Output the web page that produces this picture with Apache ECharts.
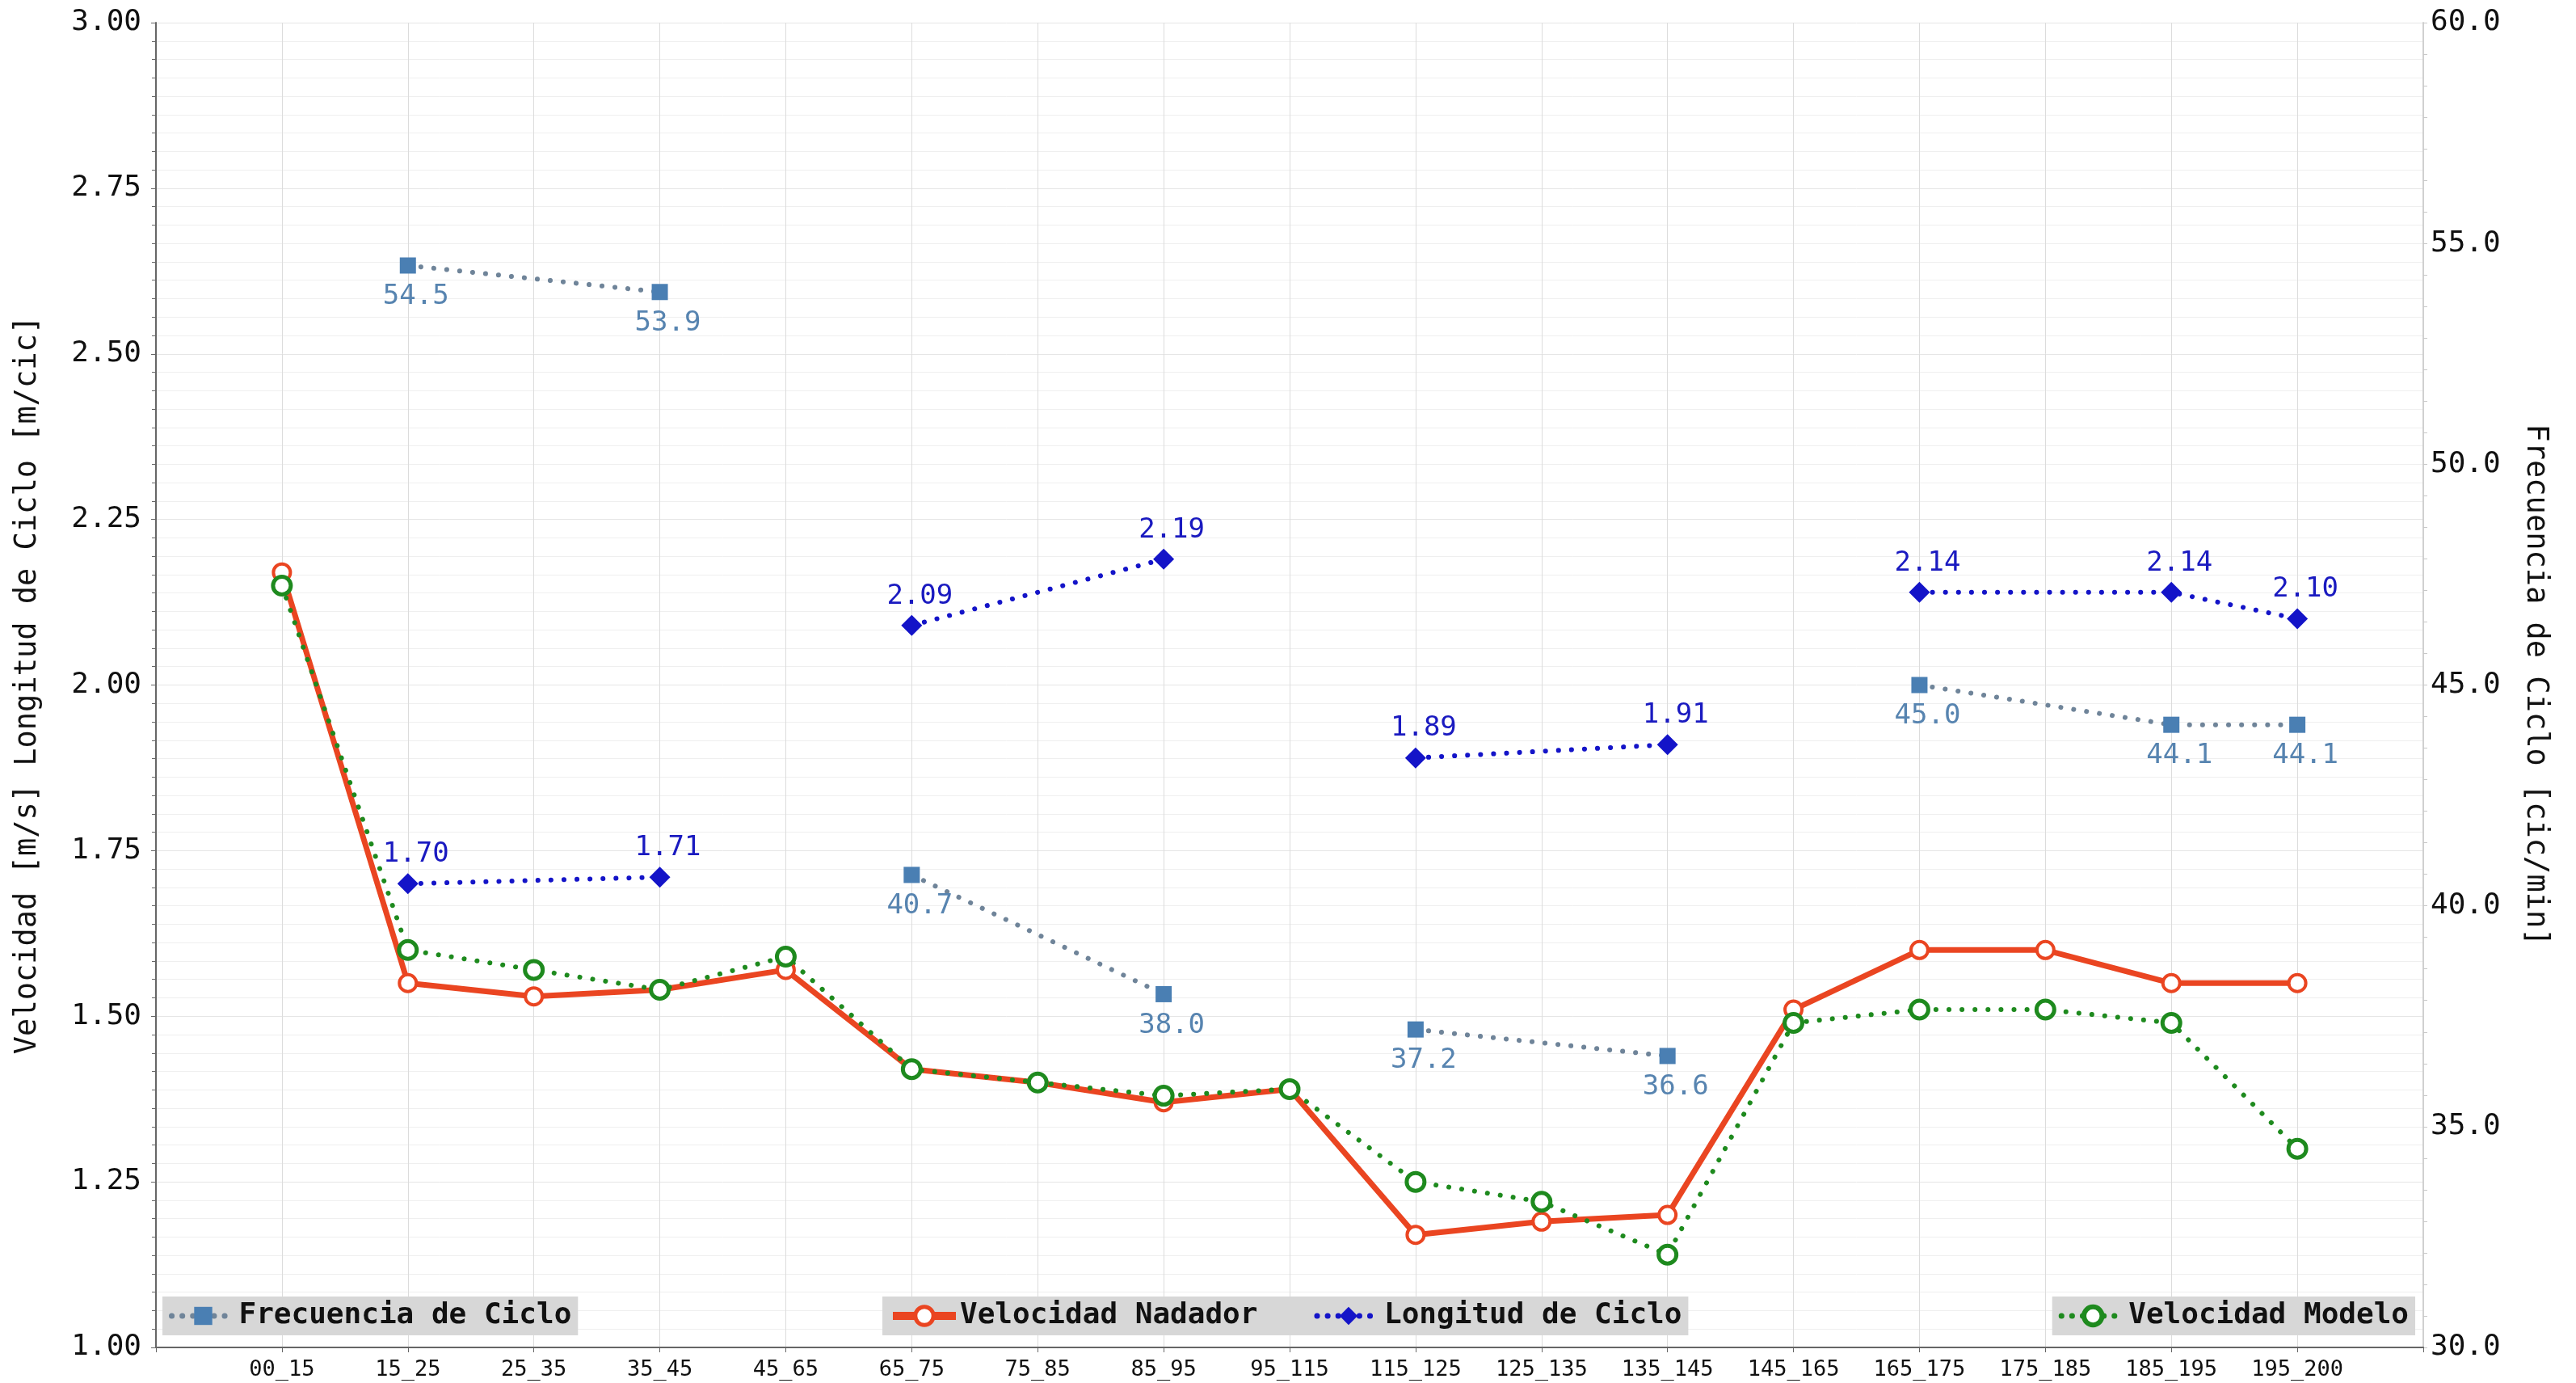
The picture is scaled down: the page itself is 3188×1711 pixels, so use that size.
<!DOCTYPE html>
<html>
<head>
<meta charset="utf-8">
<title>Velocidad y ciclo por tramo</title>
<script src="https://cdn.jsdelivr.net/npm/echarts@6/dist/echarts.min.js"></script>
<style>
html, body { margin: 0; padding: 0; background: #fff; }
#chart { width: 3188px; height: 1711px; }
</style>
</head>
<body>
<div id="chart"></div>
<script>
// tramos de la prueba
var categorias = ['00_15', '15_25', '25_35', '35_45', '45_65', '65_75', '75_85', '85_95', '95_115',
	'115_125', '125_135', '135_145', '145_165', '165_175', '175_185', '185_195', '195_200'];

// velocidades [m/s]
var velocidadNadador = [2.17, 1.55, 1.53, 1.54, 1.57, 1.42, 1.40, 1.37, 1.39, 1.17, 1.19, 1.20, 1.51, 1.60, 1.60, 1.55, 1.55];
var velocidadModelo = [2.15, 1.60, 1.57, 1.54, 1.59, 1.42, 1.40, 1.38, 1.39, 1.25, 1.22, 1.14, 1.49, 1.51, 1.51, 1.49, 1.30];

// longitud de ciclo [m/cic] y frecuencia de ciclo [cic/min], solo en algunos tramos
var longitudCiclo = [null, 1.70, null, 1.71, null, 2.09, null, 2.19, null, 1.89, null, 1.91, null, 2.14, null, 2.14, 2.10];
var frecuenciaCiclo = [null, 54.5, null, 53.9, null, 40.7, null, 38.0, null, 37.2, null, 36.6, null, 45.0, null, 44.1, 44.1];

// grupos de tramos unidos por la linea punteada
var segmentos = [[1, 3], [5, 7], [9, 11], [13, 15, 16]];

var fuente = 'DejaVu Sans Mono';
var puntitos = [0.1, 16];

var colorNadador = '#ea4521';
var colorModelo = '#1e8a1e';
var colorLongitud = '#1414c8';
var colorFrecuencia = '#4a7fb3';
var colorFrecLinea = '#6f8499';

function puntos(valores) {
	return valores.map(function (v, i) { return [i, v]; });
}

function puntosSegmento(valores, idx) {
	return idx.map(function (i) { return [i, valores[i]]; });
}

var series = [];

segmentos.forEach(function (seg) {
	series.push({
		name: 'Frecuencia de Ciclo',
		type: 'line',
		yAxisIndex: 1,
		data: puntosSegmento(frecuenciaCiclo, seg),
		symbol: 'rect',
		symbolSize: 20,
		itemStyle: { color: colorFrecuencia },
		lineStyle: { color: colorFrecLinea, width: 6, type: puntitos, cap: 'round' },
		label: {
			show: true,
			position: 'bottom',
			distance: 12,
			offset: [10, 0],
			fontFamily: fuente,
			fontSize: 34,
			color: '#5784b0',
			formatter: function (p) { return p.value[1].toFixed(1); }
		}
	});
});

series.push({
	name: 'Velocidad Nadador',
	type: 'line',
	data: puntos(velocidadNadador),
	symbol: 'circle',
	symbolSize: 21,
	itemStyle: { color: '#fff', borderColor: colorNadador, borderWidth: 4 },
	lineStyle: { color: colorNadador, width: 7 }
});

segmentos.forEach(function (seg) {
	series.push({
		name: 'Longitud de Ciclo',
		type: 'line',
		data: puntosSegmento(longitudCiclo, seg),
		symbol: 'diamond',
		symbolSize: 26,
		itemStyle: { color: colorLongitud },
		lineStyle: { color: colorLongitud, width: 6, type: puntitos, cap: 'round' },
		label: {
			show: true,
			position: 'top',
			distance: 6,
			offset: [10, 0],
			fontFamily: fuente,
			fontSize: 34,
			color: '#1a1ac0',
			formatter: function (p) { return p.value[1].toFixed(2); }
		}
	});
});

series.push({
	name: 'Velocidad Modelo',
	type: 'line',
	data: puntos(velocidadModelo),
	symbol: 'circle',
	symbolSize: 22,
	itemStyle: { color: '#fff', borderColor: colorModelo, borderWidth: 5 },
	lineStyle: { color: colorModelo, width: 6, type: puntitos, cap: 'round' }
});

// entradas de leyenda con el mismo trazo que la serie
var itemsLeyenda = {
	'Frecuencia de Ciclo': {
		itemStyle: { color: colorFrecuencia, borderWidth: 0 },
		lineStyle: { color: colorFrecLinea, width: 7, type: [0.1, 13], cap: 'round' }
	},
	'Velocidad Nadador': {
		itemStyle: { color: '#fff', borderColor: colorNadador, borderWidth: 5 },
		lineStyle: { color: colorNadador, width: 10, type: 'solid' }
	},
	'Longitud de Ciclo': {
		itemStyle: { color: colorLongitud, borderWidth: 0 },
		lineStyle: { color: colorLongitud, width: 7, type: [0.1, 13], cap: 'round' }
	},
	'Velocidad Modelo': {
		itemStyle: { color: '#fff', borderColor: colorModelo, borderWidth: 6 },
		lineStyle: { color: colorModelo, width: 7, type: [0.1, 13], cap: 'round' }
	}
};

function leyenda(nombres, pos) {
	return Object.assign({
		orient: 'horizontal',
		top: 1604,
		backgroundColor: '#d7d7d7',
		borderRadius: 0,
		padding: [6, 8],
		itemWidth: 78,
		itemHeight: 28,
		itemGap: 70,
		textStyle: { fontFamily: fuente, fontSize: 36, fontWeight: 'bold', color: '#111' },
		data: nombres.map(function (n) {
			return Object.assign({ name: n }, itemsLeyenda[n]);
		})
	}, pos);
}

var myChart = echarts.init(document.getElementById('chart'));

var option = {
	animation: false,
	backgroundColor: '#fff',
	grid: { left: 193, right: 189, top: 28, bottom: 44, containLabel: false },
	legend: [
		leyenda(['Frecuencia de Ciclo'], { left: 201 }),
		leyenda(['Velocidad Nadador', 'Longitud de Ciclo'], { left: 1092 }),
		leyenda(['Velocidad Modelo'], { right: 199 })
	],
	xAxis: {
		type: 'value',
		min: -1,
		max: 17,
		interval: 1,
		axisLine: { onZero: false, lineStyle: { color: '#666', width: 2 } },
		axisTick: { show: true, length: 6, lineStyle: { color: '#666' } },
		axisLabel: {
			margin: 14,
			fontFamily: fuente,
			fontSize: 27,
			color: '#111',
			formatter: function (v) { return categorias[v] || ''; }
		},
		splitLine: { show: true, lineStyle: { color: '#dcdcdc', width: 1 } }
	},
	yAxis: [{
		type: 'value',
		min: 1,
		max: 3,
		interval: 0.25,
		name: 'Velocidad [m/s] Longitud de Ciclo [m/cic]',
		nameLocation: 'middle',
		nameGap: 140,
		nameTextStyle: { fontFamily: fuente, fontSize: 37, color: '#111' },
		axisLine: { show: true, onZero: false, lineStyle: { color: '#666', width: 2 } },
		axisTick: { show: true, length: 6, lineStyle: { color: '#666' } },
		minorTick: { show: true, splitNumber: 9, length: 5, lineStyle: { color: '#666' } },
		axisLabel: {
			margin: 18,
			fontFamily: fuente,
			fontSize: 36,
			color: '#111',
			formatter: function (v) { return v.toFixed(2); }
		},
		splitLine: { show: true, lineStyle: { color: '#e6e6e6' } },
		minorSplitLine: { show: true, lineStyle: { color: '#efefef' } }
	}, {
		type: 'value',
		position: 'right',
		min: 30,
		max: 60,
		interval: 5,
		name: 'Frecuencia de Ciclo [cic/min]',
		nameLocation: 'middle',
		nameRotate: -90,
		nameGap: 120,
		nameTextStyle: { fontFamily: fuente, fontSize: 37, color: '#111' },
		axisLine: { show: true, onZero: false, lineStyle: { color: '#d0d0d0', width: 2 } },
		axisTick: { show: true, length: 5, lineStyle: { color: '#c8c8c8' } },
		minorTick: { show: true, splitNumber: 7, length: 5, lineStyle: { color: '#c8c8c8' } },
		axisLabel: {
			margin: 9,
			fontFamily: fuente,
			fontSize: 36,
			color: '#111',
			formatter: function (v) { return v.toFixed(1); }
		},
		splitLine: { show: false }
	}],
	series: series
};

myChart.setOption(option);
</script>
</body>
</html>
